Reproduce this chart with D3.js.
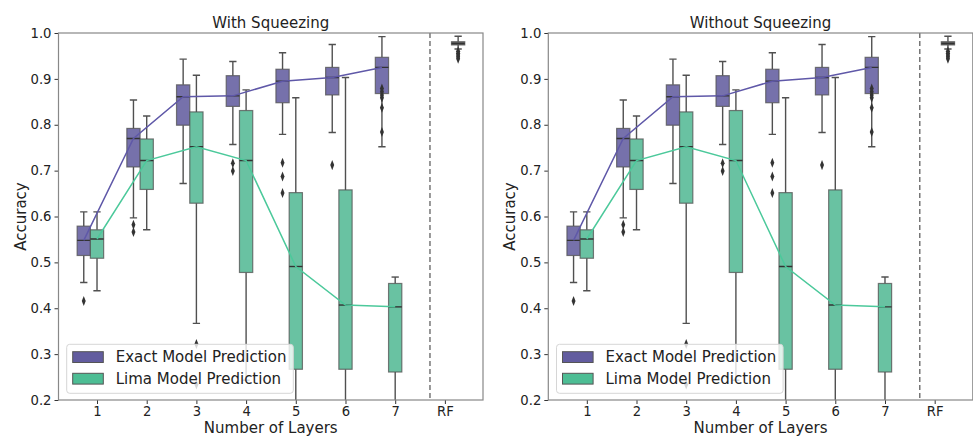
<!DOCTYPE html>
<html>
<head>
<meta charset="utf-8">
<script src="https://cdn.jsdelivr.net/npm/d3@7"></script>
<style>
  html, body { margin: 0; padding: 0; background: #fff; }
  svg { display: block; font-family: "DejaVu Sans", sans-serif; }
</style>
</head>
<body>
<svg id="chart" width="973" height="436"></svg>
<script>
// ---------------- data ----------------
const panelTitles = ["With Squeezing", "Without Squeezing"];
const categories = ["1", "2", "3", "4", "5", "6", "7", "RF"];
const yTicks = [0.2, 0.3, 0.4, 0.5, 0.6, 0.7, 0.8, 0.9, 1.0];
const seriesNames = ["Exact Model Prediction", "Lima Model Prediction"];

// Exact model (layers 1..7)
const exactLow    = [0.456, 0.597, 0.672, 0.757, 0.779, 0.783, 0.752];
const exactQ1     = [0.515, 0.708, 0.799, 0.840, 0.848, 0.865, 0.868];
const exactMedian = [0.548, 0.770, 0.861, 0.863, 0.895, 0.903, 0.925];
const exactQ3     = [0.579, 0.792, 0.887, 0.907, 0.921, 0.925, 0.947];
const exactHigh   = [0.610, 0.854, 0.943, 0.938, 0.957, 0.975, 0.992];
const exactOutliers = [[0.416], [0.582, 0.566], [], [0.716, 0.699],
                       [0.717, 0.687, 0.651], [0.712],
                       [0.879, 0.872, 0.865, 0.859, 0.837, 0.784]];

// Lima model (layers 1..7)
const limaLow    = [0.438, 0.571, 0.367, 0.243, 0.10, 0.10, 0.10];
const limaQ1     = [0.509, 0.659, 0.629, 0.478, 0.267, 0.267, 0.261];
const limaMedian = [0.551, 0.722, 0.752, 0.722, 0.491, 0.407, 0.403];
const limaQ3     = [0.571, 0.769, 0.828, 0.831, 0.652, 0.658, 0.454];
const limaHigh   = [0.610, 0.819, 0.908, 0.876, 0.859, 0.903, 0.468];
const limaOutliers = [[], [], [0.322, 0.234], [], [], [], []];

// Random forest baseline
const rfStats = [0.965, 0.974, 0.977, 0.981, 0.993]; // low, q1, median, q3, high
const rfOutliers = [0.960, 0.956, 0.952, 0.948, 0.944];

// ---------------- styles ----------------
const exactFill = "#7671ab", limaFill = "#69c2a2", rfFill = "#6e6e6e";
const exactLegend = "#625c9f", limaLegend = "#4dbd94";
const exactLine = "#5f58a8", limaLine = "#4cc99b";
const edge = "#505050";

const svg = d3.select("#chart");
const H = { top: 33, bottom: 400 };
const panelLeft = [58.5, 548.3];
const panelWidth = 424.5;

function build(stats) {
  return stats[0].map((_, i) => ({
    low: stats[0][i], q1: stats[1][i], med: stats[2][i], q3: stats[3][i], high: stats[4][i],
    out: stats[5][i]
  }));
}
const exactBoxes = build([exactLow, exactQ1, exactMedian, exactQ3, exactHigh, exactOutliers]);
const limaBoxes = build([limaLow, limaQ1, limaMedian, limaQ3, limaHigh, limaOutliers]);
const rfBox = { low: rfStats[0], q1: rfStats[1], med: rfStats[2], q3: rfStats[3], high: rfStats[4], out: rfOutliers };

const hueW = 0.8 / 3;

panelTitles.forEach((title, p) => {
  const x0 = panelLeft[p];
  const x = d3.scaleLinear().domain([-0.775, 7.767]).range([x0, x0 + panelWidth]);
  const y = d3.scaleLinear().domain([0.2, 1.0]).range([H.bottom, H.top]);
  const g = svg.append("g");

  const clipId = "clip" + p;
  svg.append("clipPath").attr("id", clipId).append("rect")
    .attr("x", x0).attr("y", H.top).attr("width", panelWidth).attr("height", H.bottom - H.top);

  const plot = g.append("g").attr("clip-path", `url(#${clipId})`);

  const bw = x(hueW) - x(0);

  function drawBox(d, cx, fill) {
    const gb = plot.append("g");
    const capW = bw * 0.55;
    // whiskers
    gb.append("line").attr("x1", cx).attr("x2", cx).attr("y1", y(d.q3)).attr("y2", y(d.high))
      .attr("stroke", edge).attr("stroke-width", 1.4);
    gb.append("line").attr("x1", cx).attr("x2", cx).attr("y1", y(d.q1)).attr("y2", y(d.low))
      .attr("stroke", edge).attr("stroke-width", 1.4);
    gb.append("line").attr("x1", cx - capW / 2).attr("x2", cx + capW / 2).attr("y1", y(d.high)).attr("y2", y(d.high))
      .attr("stroke", edge).attr("stroke-width", 1.4);
    gb.append("line").attr("x1", cx - capW / 2).attr("x2", cx + capW / 2).attr("y1", y(d.low)).attr("y2", y(d.low))
      .attr("stroke", edge).attr("stroke-width", 1.4);
    // box
    gb.append("rect").attr("x", cx - bw / 2).attr("width", bw)
      .attr("y", y(d.q3)).attr("height", Math.max(0.5, y(d.q1) - y(d.q3)))
      .attr("fill", fill).attr("stroke", edge).attr("stroke-opacity", 0.75).attr("stroke-width", 1.2);
    // median
    gb.append("line").attr("x1", cx - bw / 2).attr("x2", cx + bw / 2).attr("y1", y(d.med)).attr("y2", y(d.med))
      .attr("stroke", "#333").attr("stroke-width", 1.4);
    // outliers
    const diamond = d3.symbol().type(d3.symbolDiamond).size(24);
    d.out.forEach(v => {
      gb.append("path").attr("d", diamond)
        .attr("transform", `translate(${cx},${y(v)}) scale(0.75,1.1)`)
        .attr("fill", "#333");
    });
  }

  exactBoxes.forEach((d, i) => drawBox(d, x(i - hueW), exactFill));
  limaBoxes.forEach((d, i) => drawBox(d, x(i), limaFill));
  drawBox(rfBox, x(7 + hueW), rfFill);

  // median lines
  const line = d3.line().x(d => x(d[0])).y(d => y(d[1]));
  plot.append("path").attr("d", line(exactMedian.map((m, i) => [i - hueW, m])))
    .attr("fill", "none").attr("stroke", exactLine).attr("stroke-width", 1.5);
  plot.append("path").attr("d", line(limaMedian.map((m, i) => [i, m])))
    .attr("fill", "none").attr("stroke", limaLine).attr("stroke-width", 1.5);

  // dashed separator
  plot.append("line").attr("x1", x(6.7)).attr("x2", x(6.7)).attr("y1", H.top).attr("y2", H.bottom)
    .attr("stroke", "#777").attr("stroke-width", 1.5).attr("stroke-dasharray", "5,3");

  // axes
  const xAxis = d3.axisBottom(x).tickValues(d3.range(categories.length))
    .tickFormat(i => categories[i]).tickSize(4).tickPadding(3);
  const gx = g.append("g").attr("transform", `translate(0,${H.bottom})`).call(xAxis);
  const yAxis = d3.axisLeft(y).tickValues(yTicks).tickFormat(d3.format(".1f")).tickSize(4).tickPadding(3);
  const gy = g.append("g").attr("transform", `translate(${x0},0)`).call(yAxis);
  [gx, gy].forEach(a => {
    a.select(".domain").remove();
    a.selectAll(".tick line").attr("stroke", "#333").attr("stroke-width", 1);
    a.selectAll(".tick text").attr("font-size", 13.2).attr("fill", "#222")
      .attr("font-family", "DejaVu Sans, sans-serif");
  });

  // frame
  g.append("rect").attr("x", x0).attr("y", H.top).attr("width", panelWidth).attr("height", H.bottom - H.top)
    .attr("fill", "none").attr("stroke", "#888").attr("stroke-width", 1.2);

  // legend
  const lg = g.append("g");
  lg.append("rect").attr("x", x0 + 8.2).attr("y", 344.3).attr("width", 226.6).attr("height", 49)
    .attr("rx", 3).attr("fill", "#fff").attr("fill-opacity", 0.8).attr("stroke", "#d6d6d6");
  [[exactLegend, seriesNames[0], 351.7], [limaLegend, seriesNames[1], 373.3]].forEach(([c, t, yy]) => {
    lg.append("rect").attr("x", x0 + 14.2).attr("y", yy).attr("width", 30.6).attr("height", 10.8)
      .attr("fill", c).attr("stroke", "#555").attr("stroke-width", 1);
    lg.append("text").attr("x", x0 + 57.2).attr("y", yy + 10.5).attr("font-size", 15)
      .attr("fill", "#222").text(t);
  });

  // title and labels
  g.append("text").attr("x", x0 + panelWidth / 2).attr("y", 27.5).attr("text-anchor", "middle")
    .attr("font-size", 15).attr("fill", "#222").text(title);
  g.append("text").attr("x", x0 + panelWidth / 2).attr("y", 432.5).attr("text-anchor", "middle")
    .attr("font-size", 15).attr("fill", "#222").text("Number of Layers");
  g.append("text").attr("transform", `translate(${x0 - 33},${(H.top + H.bottom) / 2}) rotate(-90)`)
    .attr("text-anchor", "middle").attr("font-size", 15).attr("fill", "#222").text("Accuracy");
});
</script>
</body>
</html>
